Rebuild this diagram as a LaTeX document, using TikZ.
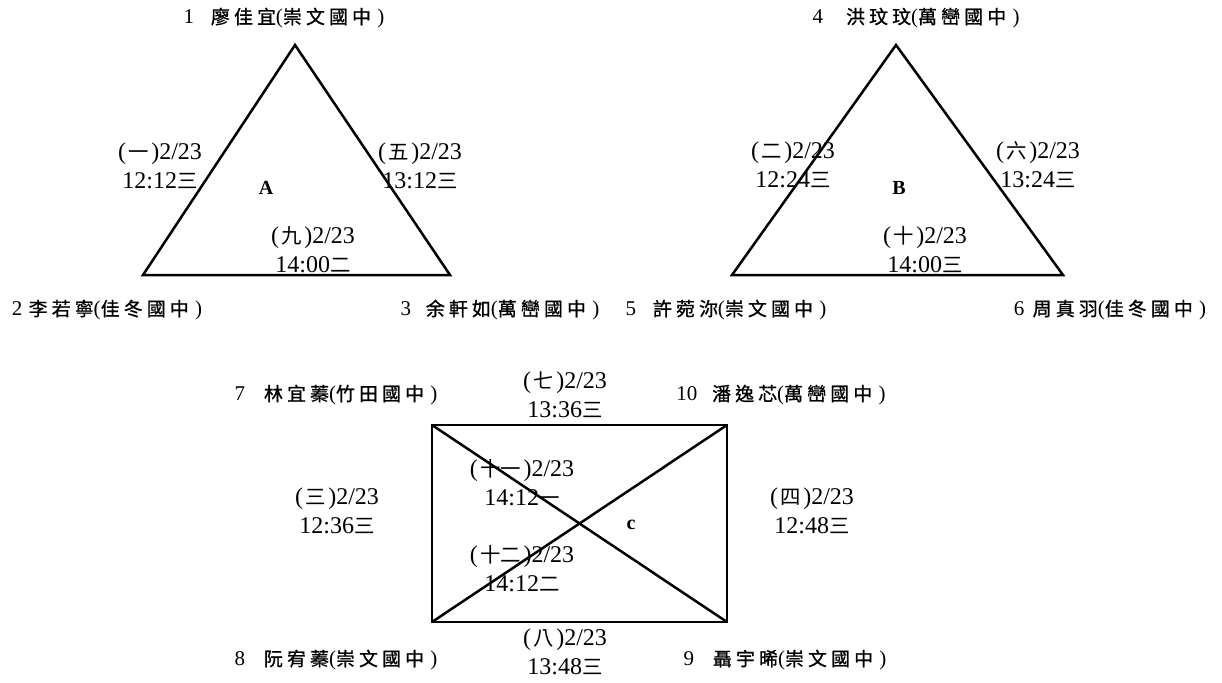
\documentclass[tikz,border=0pt]{standalone}
\usepackage{fontspec}
\setmainfont{Liberation Serif}
\newfontfamily\cjk[Scale=0.9,LetterSpace=22,FakeBold=1]{Noto Sans CJK TC}
\newfontfamily\cjkn[Scale=0.85]{Noto Sans CJK TC}
\newcommand\zh[1]{{\cjk #1}}
\newcommand\zs[1]{{\cjk #1}\hspace{0.3em}}
\newcommand\zn[1]{{\cjkn\hspace{0.12em}#1\hspace{0.12em}}}
\newcommand\zd[1]{{\cjkn #1}}
\tikzset{
  lato/.style    = {line width=2.5pt, line join=miter},
  nome/.style    = {font=\fontsize{21}{23}\selectfont, inner sep=0pt},
  orario/.style  = {font=\fontsize{24}{29}\selectfont, align=center, inner sep=0pt},
  girone/.style  = {font=\bfseries\fontsize{20}{22}\selectfont, inner sep=0pt}
}

\begin{document}
\begin{tikzpicture}[x=1pt, y=-1pt]
  \useasboundingbox (0,0) rectangle (1222,682);

  % girone A
  \coordinate (a1) at (295,45);
  \coordinate (a2) at (143,275);
  \coordinate (a3) at (450,275);
  \draw[lato] (a1) -- (a2) -- (a3) -- cycle;
  \node[girone] (gA) at (266,188) {A};
  \node[nome] (p1) at (284,18)  {1\hspace{0.8em}\zh{廖佳宜}(\zs{崇文國中})};
  \node[nome] (p2) at (107,310) {2\hspace{0.3em}\zh{李若寧}(\zs{佳冬國中})};
  \node[nome] (p3) at (500,310) {3\hspace{0.7em}\zh{余軒如}(\zs{萬巒國中})};
  \node[orario] (m1) at (160,166) {(\zn{一})2/23\\12:12\zd{三}};
  \node[orario] (m5) at (420,166) {(\zn{五})2/23\\13:12\zd{三}};
  \node[orario] (m9) at (313,250) {(\zn{九})2/23\\14:00\zd{二}};

  % girone B
  \coordinate (b1) at (896,45);
  \coordinate (b2) at (732,275);
  \coordinate (b3) at (1063,275);
  \draw[lato] (b1) -- (b2) -- (b3) -- cycle;
  \node[girone] (gB) at (899,188) {B};
  \node[nome] (p4) at (916,18)   {4\hspace{1.1em}\zh{洪玟玟}(\zs{萬巒國中})};
  \node[nome] (p5) at (726,310)  {5\hspace{0.8em}\zh{許菀沵}(\zs{崇文國中})};
  \node[nome] (p6) at (1110,310) {6\hspace{0.4em}\zh{周真羽}(\zs{佳冬國中})};
  \node[orario] (m2)  at (793,165)  {(\zn{二})2/23\\12:24\zd{三}};
  \node[orario] (m6)  at (1038,165) {(\zn{六})2/23\\13:24\zd{三}};
  \node[orario] (m10) at (925,250)  {(\zn{十})2/23\\14:00\zd{三}};

  % girone C
  \coordinate (c1) at (432,425);
  \coordinate (c2) at (727,425);
  \coordinate (c3) at (727,622);
  \coordinate (c4) at (432,622);
  \draw[lato] (c1) -- (c2) -- (c3) -- (c4) -- cycle;
  \draw[lato] (c1) -- (c3);
  \draw[lato] (c2) -- (c4);
  \node[girone] (gC) at (631,525) {c};
  \node[nome] (p7)  at (336,395) {7\hspace{0.9em}\zh{林宜蓁}(\zs{竹田國中})};
  \node[nome] (p10) at (781,395) {10\hspace{0.7em}\zh{潘逸芯}(\zs{萬巒國中})};
  \node[nome] (p8)  at (336,660) {8\hspace{0.9em}\zh{阮宥蓁}(\zs{崇文國中})};
  \node[nome] (p9)  at (785,660) {9\hspace{0.9em}\zh{聶宇晞}(\zs{崇文國中})};
  \node[orario] (m7)  at (565,395) {(\zn{七})2/23\\13:36\zd{三}};
  \node[orario] (m8)  at (565,652) {(\zn{八})2/23\\13:48\zd{三}};
  \node[orario] (m3)  at (337,511) {(\zn{三})2/23\\12:36\zd{三}};
  \node[orario] (m4)  at (812,511) {(\zn{四})2/23\\12:48\zd{三}};
  \node[orario] (m11) at (522,483) {(\zn{十一})2/23\\14:12\zd{一}};
  \node[orario] (m12) at (522,569) {(\zn{十二})2/23\\14:12\zd{二}};

\end{tikzpicture}
\end{document}
